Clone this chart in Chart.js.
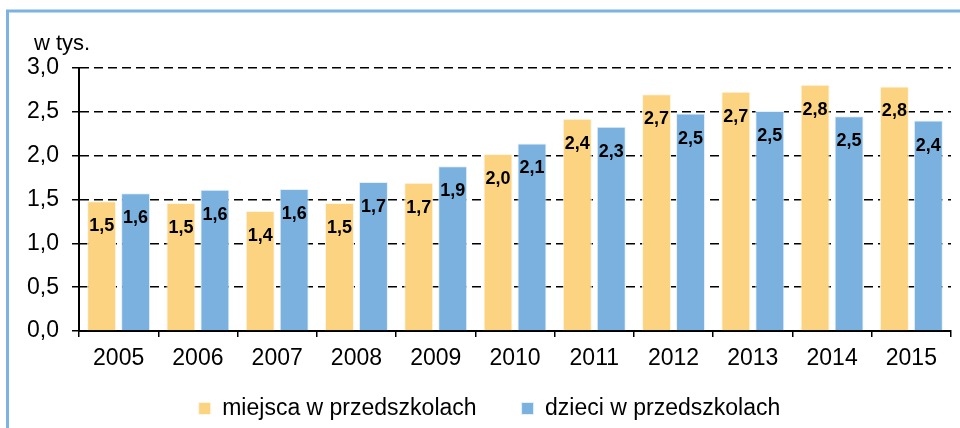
<!DOCTYPE html>
<html>
<head>
<meta charset="utf-8">
<script src="https://cdn.jsdelivr.net/npm/chart.js@4.4.1/dist/chart.umd.min.js"></script>
<style>
  html, body { margin: 0; padding: 0; background: #fff; }
  #wrap { width: 960px; height: 428px; }
</style>
</head>
<body>
<div id="wrap"><canvas id="chart" width="960" height="428"></canvas></div>
<script>
// data (w tys.)
const years = ['2005', '2006', '2007', '2008', '2009', '2010', '2011', '2012', '2013', '2014', '2015'];
const placesValues = [1.48, 1.46, 1.37, 1.46, 1.69, 2.02, 2.42, 2.70, 2.73, 2.81, 2.79];
const childrenValues = [1.57, 1.61, 1.62, 1.70, 1.88, 2.14, 2.33, 2.48, 2.51, 2.45, 2.40];
const seriesNames = ['miejsca w przedszkolach', 'dzieci w przedszkolach'];
const yTickValues = [0, 0.5, 1.0, 1.5, 2.0, 2.5, 3.0];
const unitLabel = 'w tys.';

const FONT = '"Liberation Sans", Arial, sans-serif';
const fmt = v => v.toFixed(1).replace('.', ',');

// ---------------------------
// light blue frame (top + left edge) and the unit label
// ---------------------------
const framePlugin = {
    id: 'frame',
    beforeDraw(chart) {
        const ctx = chart.ctx;
        ctx.save();
        ctx.strokeStyle = '#7DB3E0';
        ctx.lineWidth = 3;
        ctx.beginPath();
        ctx.moveTo(7.5, chart.height);
        ctx.lineTo(7.5, 11);
        ctx.lineTo(chart.width, 11);
        ctx.stroke();

        ctx.fillStyle = '#000';
        ctx.font = '22px ' + FONT;
        ctx.textAlign = 'left';
        ctx.textBaseline = 'alphabetic';
        ctx.fillText(unitLabel, chart.chartArea.left - 45, chart.chartArea.top - 18);
        ctx.restore();
    }
};

// move the legend up closer to the axis, a bit to the right
const legendPlace = {
    id: 'legendPlace',
    afterLayout(chart) {
        const lg = chart.legend;
        if (!lg) return;
        const dy = 352 - lg.top;
        lg.top += dy;
        lg.bottom += dy;
        lg.left += 10;
        lg.right += 10;
    }
};

// ---------------------------
// value labels inside the bars
// ---------------------------
const barLabels = {
    id: 'barLabels',
    afterDatasetsDraw(chart) {
        const ctx = chart.ctx;
        ctx.save();
        ctx.font = 'bold 18px ' + FONT;
        ctx.fillStyle = '#000';
        ctx.textAlign = 'center';
        ctx.textBaseline = 'middle';
        chart.data.datasets.forEach((ds, i) => {
            chart.getDatasetMeta(i).data.forEach((bar, j) => {
                ctx.fillText(fmt(ds.data[j]), bar.x, bar.y + 25);
            });
        });
        ctx.restore();
    }
};

new Chart(document.getElementById('chart'), {
    type: 'bar',
    data: {
        labels: years,
        datasets: [
            {
                label: seriesNames[0],
                data: placesValues,
                backgroundColor: '#FCD380',
                borderColor: '#FFF6E4',
                borderWidth: 1,
                categoryPercentage: 0.857,
                barPercentage: 0.853
            },
            {
                label: seriesNames[1],
                data: childrenValues,
                backgroundColor: '#7AB1DF',
                borderColor: '#E4F0FA',
                borderWidth: 1,
                categoryPercentage: 0.857,
                barPercentage: 0.853
            }
        ]
    },
    options: {
        responsive: false,
        animation: false,
        devicePixelRatio: 1,
        layout: { padding: { left: 8, right: 9, top: 68, bottom: -25 } },
        plugins: {
            legend: {
                position: 'bottom',
                labels: {
                    color: '#000',
                    font: { family: FONT, size: 23 },
                    boxWidth: 12,
                    boxHeight: 12,
                    padding: 45
                }
            },
            tooltip: { enabled: false }
        },
        scales: {
            x: {
                grid: {
                    display: true,
                    drawOnChartArea: false,
                    drawTicks: true,
                    tickLength: 6,
                    color: '#000',
                    lineWidth: 1.5
                },
                border: { display: true, color: '#000', width: 2 },
                ticks: {
                    color: '#000',
                    font: { family: FONT, size: 23 },
                    padding: 8,
                    maxRotation: 0
                },
                afterFit(scale) { scale.height = 44; }
            },
            y: {
                min: 0,
                max: 3,
                afterBuildTicks(scale) {
                    scale.ticks = yTickValues.map(v => ({ value: v }));
                },
                grid: {
                    color: '#000',
                    lineWidth: 1.5,
                    tickLength: 7,
                    tickBorderDash: [],
                    drawTicks: true
                },
                border: { display: true, color: '#000', width: 2, dash: [9, 5] },
                ticks: {
                    color: '#000',
                    font: { family: FONT, size: 23 },
                    padding: 13,
                    callback: v => fmt(v)
                },
                afterFit(scale) { scale.width = 71; }
            }
        }
    },
    plugins: [framePlugin, legendPlace, barLabels]
});
</script>
</body>
</html>
